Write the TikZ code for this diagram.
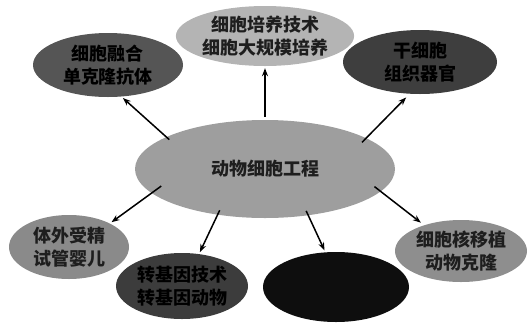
\documentclass[tikz,border=0pt]{standalone}
\usepackage{fontspec}
\newfontfamily\cjk{Noto Sans CJK SC}
\usetikzlibrary{shapes.geometric,arrows.meta}
\tikzset{
  bub/.style={ellipse,inner sep=0pt,align=center,
    font=\cjk\bfseries\fontsize{18}{23}\selectfont},
  arr/.style={-{Stealth[length=8pt,width=6pt]},line width=1.5pt,shorten >=2pt}
}
\definecolor{gtop}{HTML}{B4B4B4}
\definecolor{gmid}{HTML}{9E9E9E}
\definecolor{gbl}{HTML}{8A8A8A}
\definecolor{gbr}{HTML}{8E8E8E}
\definecolor{dtl}{HTML}{555555}
\definecolor{dtr}{HTML}{3E3E3E}
\definecolor{dbm}{HTML}{3C3C3C}
\definecolor{blk}{HTML}{0E0E0E}
\definecolor{tx}{HTML}{1E1E1E}
\begin{document}
\begin{tikzpicture}[x=1pt,y=-1pt]
\useasboundingbox (0,0) rectangle (528,325);
\node[bub,fill=gmid,minimum width=260pt,minimum height=98pt,text=tx] (c) at (265,169) {动物细胞工程};
\node[bub,fill=gtop,minimum width=176pt,minimum height=60pt,text=tx] (t) at (265,36) {细胞培养技术\\细胞大规模培养};
\node[bub,fill=dtl,minimum width=150pt,minimum height=64pt,text=black] (tl) at (108,65) {细胞融合\\单克隆抗体};
\node[bub,fill=dtr,minimum width=154pt,minimum height=64pt,text=black] (tr) at (420,62) {干细胞\\组织器官};
\node[bub,fill=gbl,minimum width=120pt,minimum height=64pt,text=tx] (bl) at (69,247) {体外受精\\试管婴儿};
\node[bub,fill=dbm,minimum width=132pt,minimum height=66pt,text=black] (bm) at (182,286) {转基因技术\\转基因动物};
\node[bub,fill=blk,minimum width=146pt,minimum height=70pt] (bk) at (336,287) {};
\node[bub,fill=gbr,minimum width=132pt,minimum height=62pt,text=tx] (br) at (461,251) {细胞核移植\\动物克隆};
\draw[arr,shorten <=3pt] (c.90) -- (t.-90);
\draw[arr,shorten <=-4pt] (c.162) -- (tl.-67);
\draw[arr,shorten <=-6pt,shorten >=5pt] (c.17.5) -- (tr.252.5);
\draw[arr,shorten <=-12pt] (c.192) -- (bl.30);
\draw[arr,shorten <=-5pt] (c.224) -- (bm.62);
\draw[arr,shorten <=-5pt] (c.313) -- (bk.107);
\draw[arr,shorten <=-8pt,shorten >=4pt] (c.349) -- (br.145);
\end{tikzpicture}
\end{document}
